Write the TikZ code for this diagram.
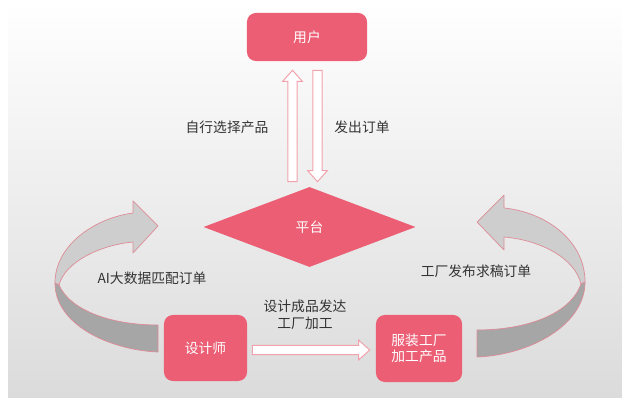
\documentclass[tikz,border=0pt]{standalone}
\usepackage{fontspec}
\setmainfont{Noto Sans CJK SC}
\usetikzlibrary{calc,shapes.geometric}

\definecolor{boxpink}{HTML}{EB5E74}
\definecolor{linepink}{HTML}{F2A2AC}
\definecolor{rimpink}{HTML}{DE8C97}
\definecolor{lightribbon}{HTML}{CECECE}
\definecolor{darkribbon}{HTML}{A6A6A6}
\definecolor{labelgray}{HTML}{333333}
\definecolor{bgbottom}{HTML}{DBDBDB}

\tikzset{
  box/.style={rectangle, rounded corners=0.22cm, fill=boxpink, text=white, inner sep=0pt, align=center},
  platform/.style={diamond, aspect=2.6, fill=boxpink, text=white, inner sep=0pt, minimum width=5.3cm, minimum height=2cm},
  lbl/.style={text=labelgray, inner sep=1pt, align=center},
  ribbonlight/.style={fill=lightribbon, draw=rimpink, line width=0.5pt, line join=round},
  ribbondark/.style={fill=darkribbon, draw=rimpink, line width=0.5pt, line join=round},
  hollow/.style={draw=linepink, fill=white, line width=0.7pt, line join=miter,
    to path={
      ($(\tikztotarget)!0.275cm!(\tikztostart)$) coordinate (hb)
      ($(\tikztostart)!0.115cm!90:(\tikztotarget)$)
      -- ($(hb)!0.115cm!90:(\tikztotarget)$)
      -- ($(hb)!0.245cm!90:(\tikztotarget)$)
      -- (\tikztotarget)
      -- ($(hb)!0.245cm!-90:(\tikztotarget)$)
      -- ($(hb)!0.115cm!-90:(\tikztotarget)$)
      -- ($(\tikztostart)!0.115cm!-90:(\tikztotarget)$)
      -- cycle}}
}

\begin{document}
\begin{tikzpicture}[x=0.025cm, y=-0.025cm, font=\fontsize{9.8}{11.8}\selectfont]
  % backdrop
  \shade[top color=white, bottom color=bgbottom] (8,1) rectangle (622,398);
  \useasboundingbox (0,0) rectangle (622,398);

  % designer to platform
  \draw[ribbondark] (55,283) .. controls (55,325) and (110,350) .. (158,352)
    -- (158,325) .. controls (110,325) and (70,310) .. (59,285) -- cycle;
  \draw[ribbonlight] (55,283) .. controls (55,245) and (95,218) .. (133,213)
    -- (133,201) -- (158,226) -- (133,253) -- (133,242)
    .. controls (100,245) and (65,262) .. (59,285) -- cycle;
  % factory to platform
  \draw[ribbondark] (585,282) .. controls (585,325) and (530,355) .. (477,357)
    -- (477,330) .. controls (525,330) and (570,315) .. (581,284) -- cycle;
  \draw[ribbonlight] (585,282) .. controls (585,240) and (545,212) .. (504,208)
    -- (504,195) -- (477,222) -- (504,250) -- (504,237)
    .. controls (540,240) and (575,258) .. (581,284) -- cycle;

  % user
  \node[box, minimum width=3cm, minimum height=1.2cm] (user) at (307,37) {用户};
  % platform
  \node[platform] (pf) at (309.5,227) {平台};
  % designer
  \node[box, minimum width=2.075cm, minimum height=1.65cm] (des) at (205.5,348) {设计师};
  % garment factory
  \node[box, minimum width=2.15cm, minimum height=1.675cm] (fac) at (419,348.5) {服装工厂\\加工产品};

  % labels
  \node[lbl] (selTxt) at (227,127) {自行选择产品};
  \node[lbl] (ordTxt) at (362,127) {发出订单};
  \node[lbl] (aiTxt) at (152,278) {AI大数据匹配订单};
  \node[lbl] (reqTxt) at (476,271) {工厂发布求稿订单};
  \node[lbl] (sendTxt) at (305,315) {设计成品发达\\工厂加工};

  % hollow arrows
  \coordinate (selA) at ($(pf.north)+(-17,-5)$);
  \coordinate (selB) at ($(user.south)+(-14.5,9)$);
  \coordinate (ordA) at ($(user.south)+(10.5,9)$);
  \coordinate (ordB) at ($(pf.north)+(8,-5)$);
  \coordinate (sendA) at ($(des.east)+(5,2)$);
  \coordinate (sendB) at ($(fac.west)+(-6,1.5)$);
  \draw[hollow] (selA) to (selB);
  \draw[hollow] (ordA) to (ordB);
  \draw[hollow] (sendA) to (sendB);
\end{tikzpicture}
\end{document}
